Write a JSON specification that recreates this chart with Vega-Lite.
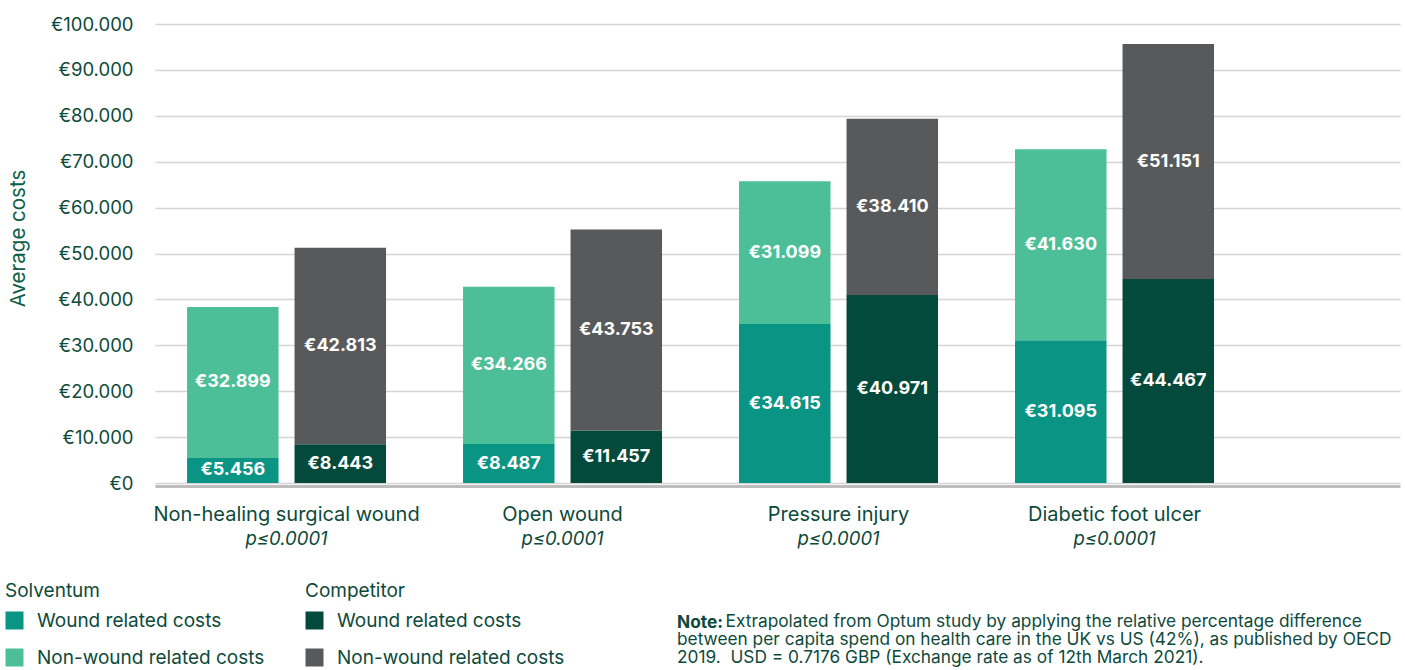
{
  "$schema": "https://vega.github.io/schema/vega-lite/v6.json",
  "width": 1245,
  "height": 459,
  "autosize": "none",
  "padding": {"left": 155, "top": 24, "right": 5, "bottom": 187},
  "background": "white",
  "config": {
    "font": "Inter",
    "view": {"stroke": null},
    "locale": {"number": {"decimal": ",", "thousands": ".", "grouping": [3], "currency": ["€", ""]}}
  },
  "title": {
    "text": "Note:",
    "subtitle": ["\u200d\u00a0\u00a0\u00a0\u00a0\u00a0\u00a0\u00a0\u00a0\u00a0\u00a0Extrapolated from Optum study by applying the relative percentage difference", "between per capita spend on health care in the UK vs US (42%), as published by OECD", "2019.\u00a0 USD = 0.7176 GBP (Exchange rate as of 12th March 2021)."],
    "orient": "bottom",
    "anchor": "start",
    "frame": "group",
    "dx": 522,
    "offset": -54,
    "font": "Inter",
    "subtitleFont": "Inter",
    "fontSize": 17.3,
    "subtitleFontSize": 17.3,
    "fontWeight": "bold",
    "subtitleFontWeight": "normal",
    "color": "#0d4a3b",
    "subtitleColor": "#0d4a3b",
    "subtitleLineHeight": 18,
    "subtitlePadding": -18,
    "align": "left",
    "baseline": "top",
    "limit": 0
  },
  "data": {"values": [
    {"category": "Non-healing surgical wound", "brand": "Solventum", "type": "Wound related costs", "rank": 1, "value": 5456},
    {"category": "Non-healing surgical wound", "brand": "Solventum", "type": "Non-wound related costs", "rank": 2, "value": 32899},
    {"category": "Non-healing surgical wound", "brand": "Competitor", "type": "Wound related costs", "rank": 1, "value": 8443},
    {"category": "Non-healing surgical wound", "brand": "Competitor", "type": "Non-wound related costs", "rank": 2, "value": 42813},
    {"category": "Open wound", "brand": "Solventum", "type": "Wound related costs", "rank": 1, "value": 8487},
    {"category": "Open wound", "brand": "Solventum", "type": "Non-wound related costs", "rank": 2, "value": 34266},
    {"category": "Open wound", "brand": "Competitor", "type": "Wound related costs", "rank": 1, "value": 11457},
    {"category": "Open wound", "brand": "Competitor", "type": "Non-wound related costs", "rank": 2, "value": 43753},
    {"category": "Pressure injury", "brand": "Solventum", "type": "Wound related costs", "rank": 1, "value": 34615},
    {"category": "Pressure injury", "brand": "Solventum", "type": "Non-wound related costs", "rank": 2, "value": 31099},
    {"category": "Pressure injury", "brand": "Competitor", "type": "Wound related costs", "rank": 1, "value": 40971},
    {"category": "Pressure injury", "brand": "Competitor", "type": "Non-wound related costs", "rank": 2, "value": 38410},
    {"category": "Diabetic foot ulcer", "brand": "Solventum", "type": "Wound related costs", "rank": 1, "value": 31095},
    {"category": "Diabetic foot ulcer", "brand": "Solventum", "type": "Non-wound related costs", "rank": 2, "value": 41630},
    {"category": "Diabetic foot ulcer", "brand": "Competitor", "type": "Wound related costs", "rank": 1, "value": 44467},
    {"category": "Diabetic foot ulcer", "brand": "Competitor", "type": "Non-wound related costs", "rank": 2, "value": 51151}
  ]},
  "transform": [
    {"stack": "value", "groupby": ["category", "brand"], "sort": [{"field": "rank", "order": "ascending"}], "as": ["v0", "v1"]},
    {"calculate": "(datum.v0 + datum.v1) / 2", "as": "vmid"}
  ],
  "encoding": {
    "xOffset": {"field": "brand", "type": "nominal", "sort": ["Solventum", "Competitor"], "scale": {"paddingInner": 0.149, "paddingOuter": 0}}
  },
  "layer": [
    {
      "transform": [{"filter": "datum.brand === 'Solventum'"}],
      "mark": {"type": "bar"},
      "encoding": {
        "x": {
          "field": "category", "type": "nominal",
          "sort": ["Non-healing surgical wound", "Open wound", "Pressure injury", "Diabetic foot ulcer"],
          "scale": {"paddingInner": 0.279, "paddingOuter": 0.395, "align": 0.147},
          "axis": {"orient": "bottom", "title": null, "labelAngle": 0, "labelFontSize": 20, "labelLimit": 0, "labelColor": "#0d4a3b", "labelPadding": 18, "ticks": false, "tickSize": 0, "domain": true, "domainColor": "#bdbdbd", "domainWidth": 3, "offset": 3, "grid": false}
        },
        "y": {
          "field": "v0", "type": "quantitative",
          "scale": {"domain": [0, 100000], "nice": false},
          "axis": {
            "title": "Average costs",
            "values": [0, 10000, 20000, 30000, 40000, 50000, 60000, 70000, 80000, 90000, 100000],
            "format": "$,.0f",
            "labelFontSize": 18.5,
            "labelColor": "#0d4a3b",
            "labelPadding": 22,
            "ticks": false,
            "tickSize": 0,
            "domain": false,
            "grid": true,
            "gridColor": "#d4d4d4",
            "gridWidth": 1.5,
            "titleFontSize": 20.5,
            "titleFontWeight": "normal",
            "titleColor": "#0c5e47",
            "titlePadding": 22,
            "titleY": 214
          }
        },
        "y2": {"field": "v1"},
        "color": {
          "field": "type", "type": "nominal",
          "scale": {"domain": ["Wound related costs", "Non-wound related costs"], "range": ["#0a9484", "#4cbf99"]},
          "legend": {"title": "Solventum", "orient": "none", "legendX": -150, "legendY": 558, "direction": "vertical", "symbolType": "square", "symbolSize": 324, "symbolStrokeWidth": 0, "symbolOpacity": 1, "labelFontSize": 19, "labelLimit": 0, "labelColor": "#0d4a3b", "labelOffset": 13, "titleFontSize": 19, "titleFontWeight": "normal", "titleColor": "#0d4a3b", "titlePadding": 10, "rowPadding": 17}
        }
      }
    },
    {
      "transform": [{"filter": "datum.brand === 'Competitor'"}],
      "mark": {"type": "bar"},
      "encoding": {
        "x": {
          "field": "category", "type": "nominal",
          "sort": ["Non-healing surgical wound", "Open wound", "Pressure injury", "Diabetic foot ulcer"],
          "axis": null
        },
        "y": {"field": "v0", "type": "quantitative"},
        "y2": {"field": "v1"},
        "color": {
          "field": "type", "type": "nominal",
          "scale": {"domain": ["Wound related costs", "Non-wound related costs"], "range": ["#044a3c", "#58595b"]},
          "legend": {"title": "Competitor", "orient": "none", "legendX": 150, "legendY": 558, "direction": "vertical", "symbolType": "square", "symbolSize": 324, "symbolStrokeWidth": 0, "symbolOpacity": 1, "labelFontSize": 19, "labelLimit": 0, "labelColor": "#0d4a3b", "labelOffset": 13, "titleFontSize": 19, "titleFontWeight": "normal", "titleColor": "#0d4a3b", "titlePadding": 10, "rowPadding": 17}
        }
      }
    },
    {
      "mark": {"type": "text", "color": "white", "fontSize": 18, "fontWeight": "bold", "baseline": "middle", "align": "center"},
      "encoding": {
        "x": {
          "field": "category", "type": "nominal",
          "sort": ["Non-healing surgical wound", "Open wound", "Pressure injury", "Diabetic foot ulcer"],
          "axis": {"orient": "bottom", "title": null, "labelAngle": 0, "labelExpr": "'p≤0.0001'", "labelFontSize": 18.5, "labelFontStyle": "italic", "labelColor": "#0d4a3b", "labelPadding": 43, "ticks": false, "tickSize": 0, "domain": false, "offset": 3, "grid": false}
        },
        "y": {"field": "vmid", "type": "quantitative"},
        "text": {"field": "value", "type": "quantitative", "format": "$,.0f"}
      }
    }
  ],
  "resolve": {"scale": {"color": "independent"}, "axis": {"x": "independent"}}
}
